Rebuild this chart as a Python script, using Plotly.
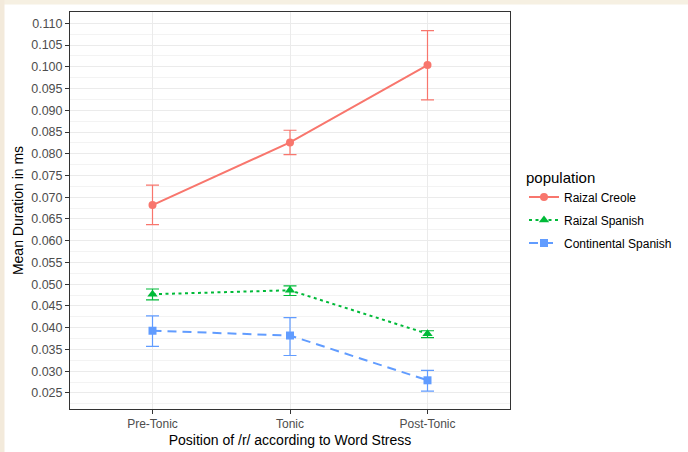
import plotly.graph_objects as go

positions = ["Pre-Tonic", "Tonic", "Post-Tonic"]
x_idx = [1, 2, 3]

populations = ["Raizal Creole", "Raizal Spanish", "Continental Spanish"]
creole_mean = [0.0682, 0.0826, 0.1004]
creole_hi = [0.0728, 0.0854, 0.1083]
creole_lo = [0.0637, 0.0798, 0.0924]

rspan_mean = [0.0477, 0.0486, 0.0386]
rspan_hi = [0.0489, 0.0496, 0.0393]
rspan_lo = [0.0464, 0.0474, 0.0377]

cspan_mean = [0.0393, 0.0382, 0.0279]
cspan_hi = [0.0427, 0.0423, 0.0302]
cspan_lo = [0.0357, 0.0336, 0.0254]

y_ticks = [0.025, 0.030, 0.035, 0.040, 0.045, 0.050, 0.055, 0.060, 0.065, 0.070,
           0.075, 0.080, 0.085, 0.090, 0.095, 0.100, 0.105, 0.110]

colors = ["#F8766D", "#00BA38", "#619CFF"]
dashes = ["solid", "3px,3.5px", "9px,6px"]
symbols = ["circle", "triangle-up", "square"]
msizes = [8, 9, 8]

series = [
    (creole_mean, creole_hi, creole_lo),
    (rspan_mean, rspan_hi, rspan_lo),
    (cspan_mean, cspan_hi, cspan_lo),
]

fig = go.Figure()
for i, (m, hi, lo) in enumerate(series):
    fig.add_trace(go.Scatter(
        x=x_idx, y=m, name=populations[i], mode="lines+markers",
        legendgroup=populations[i],
        line=dict(color=colors[i], width=2, dash=dashes[i]),
        marker=dict(color=colors[i], symbol=symbols[i], size=msizes[i]),
        error_y=dict(type="data", symmetric=False,
                     array=[h - v for h, v in zip(hi, m)],
                     arrayminus=[v - l for v, l in zip(m, lo)],
                     color=colors[i], thickness=1.2, width=6.5),
    ))

font_family = "Liberation Sans, Arial, sans-serif"
L, R, T, B = 70, 178, 12, 43
W, H = 688, 452
pw, ph = W - L - R, H - T - B

def px_x(p):
    return (p - L) / pw

def px_y(p):
    return (H - B - p) / ph

fig.update_layout(
    width=W, height=H,
    margin=dict(l=L, r=R, t=T, b=B, autoexpand=False),
    paper_bgcolor="white", plot_bgcolor="white",
    font=dict(family=font_family, color="#000000"),
    showlegend=True,
    legend=dict(
        title=dict(text="population", font=dict(size=15, color="#000000")),
        font=dict(size=12, color="#000000"),
        x=px_x(524), xanchor="left", y=px_y(163), yanchor="top",
        tracegroupgap=4, itemwidth=30, bgcolor="rgba(0,0,0,0)",
    ),
    xaxis=dict(
        range=[0.4, 3.6], tickmode="array", tickvals=x_idx, ticktext=positions,
        showgrid=True, gridcolor="#EBEBEB", gridwidth=1,
        showline=True, mirror=True, linecolor="#333333", linewidth=1,
        ticks="outside", ticklen=4, tickcolor="#333333",
        tickfont=dict(size=12, color="#4D4D4D"),
        title=dict(text="Position of /r/ according to Word Stress",
                   font=dict(size=14, color="#000000"), standoff=4),
        zeroline=False,
    ),
    yaxis=dict(
        range=[0.0213, 0.1126], tickmode="array", tickvals=y_ticks,
        ticktext=[f"{v:.3f}" for v in y_ticks],
        showgrid=True, gridcolor="#EBEBEB", gridwidth=1,
        minor=dict(dtick=0.0025, tick0=0.0225, showgrid=True,
                   gridcolor="#F3F3F3", gridwidth=0.7),
        showline=True, mirror=True, linecolor="#333333", linewidth=1,
        ticks="outside", ticklen=4, tickcolor="#333333",
        tickfont=dict(size=12.5, color="#4D4D4D"),
        title=dict(text="Mean Duration in ms",
                   font=dict(size=14, color="#000000"), standoff=4),
        zeroline=False,
    ),
    shapes=[
        dict(type="rect", xref="paper", yref="paper", layer="below",
             x0=px_x(0), x1=px_x(W), y0=px_y(0), y1=px_y(4.5),
             fillcolor="#F6F0E2", line=dict(width=0)),
        dict(type="rect", xref="paper", yref="paper", layer="below",
             x0=px_x(0), x1=px_x(4.5), y0=px_y(H), y1=px_y(0),
             fillcolor="#F3EADB", line=dict(width=0)),
    ],
)

fig.write_html("out.html",
               config={"displayModeBar": False},
               post_script="document.body.style.margin='0';document.body.style.padding='0';")
